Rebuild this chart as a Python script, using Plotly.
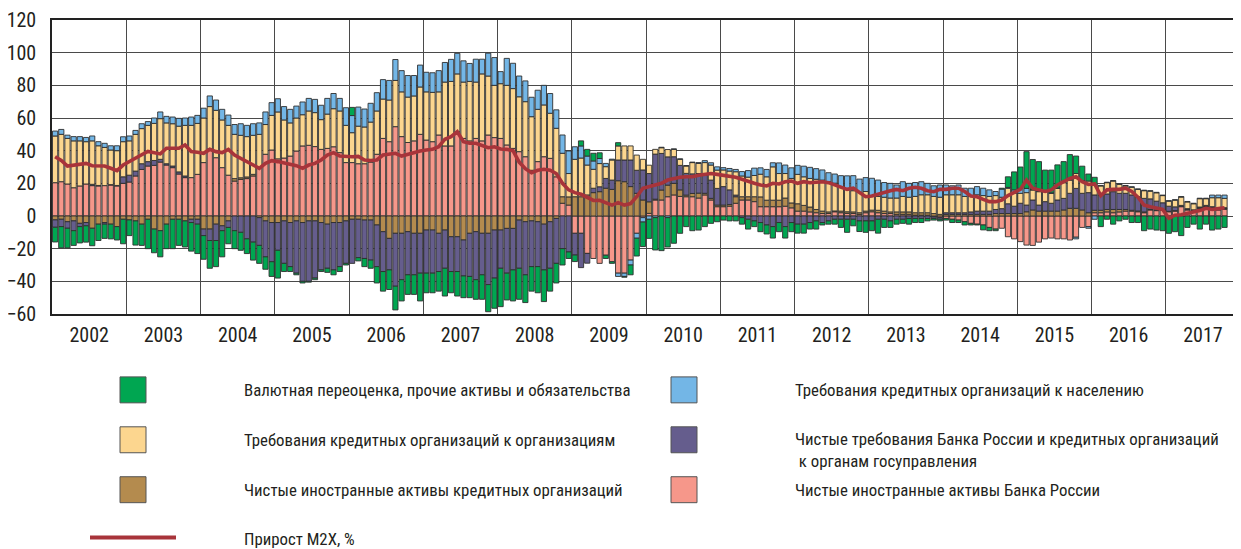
import plotly.graph_objects as go

# ---------------- data (monthly, Jan 2002 - Oct 2017), percentage points ----------------
YEARS = [str(y) for y in range(2002, 2018)]

SALMON = (  # Чистые иностранные активы Банка России
    [20.4, 21, 19.6, 17.3, 18.4, 19.6, 18.6, 18.4, 18.6, 19, 18.4, 20] +
    [20.8, 24.5, 28.5, 30.6, 31, 33, 31.2, 29.6, 25.7, 23.5, 23.5, 25.5] +
    [32.7, 41, 35.7, 29.6, 25, 21.4, 22.4, 22.9, 24.5, 29.6, 37.8, 40.4] +
    [35, 35.5, 36.7, 39.8, 42.9, 43.3, 42.5, 40.8, 41.4, 42.4, 38.8, 32.7] +
    [32.7, 32, 32, 33, 37.8, 47.5, 45.5, 54.7, 48.6, 45, 46, 50] +
    [46.5, 45.5, 49.6, 42.9, 42.9, 51.6, 47.5, 46, 47.5, 46, 49.6, 48] +
    [47.5, 43.5, 41.4, 39.4, 36.3, 28, 33.3, 36.3, 35.3, 24, 7.8, 6.7] +
    [-10.6, -10.6, -22.9, -26, -29, -24, -28, -35, -35, -27, -10.6, -1] +
    [1.6, 9.8, 9.8, 11.8, 12.9, 12, 11.8, 11.8, 11, 12.9, 9.8, 5.7] +
    [5.7, 6, 7.8, 9.8, 9.8, 8.8, 5.7, 5.7, 5.7, 5.7, 6, 5] +
    [3, 3, 2.5, 2, 1.5, 1.5, 2.6, 2, 1.6, 1.5, 1, 2] +
    [2.6, 2, 1.5, 1.5, 1, 1, 1, 0.5, 0.5, 0.5, -0.5, -1] +
    [-1.5, -2, -2.5, -3.5, -4.5, -5, -5.5, -7, -8, -7.5, -12.7, -14] +
    [-15.7, -17.8, -18, -16, -14, -13.5, -14, -14, -14.7, -13, -7, -6.5] +
    [2, 2, 2.5, 2, 2.5, 3, 3, 2.6, 2, 3.7, 3.3, 3.7] +
    [2.6, 3, 5.7, 3.7, 3, 4.7, 5.7, 4.7, 3.7, 4.1]
)

BROWN = (  # Чистые иностранные активы кредитных организаций
    [-2.4, -2, -3.5, -3, -4.5, -4, -7.5, -5, -4, -5, -6.5, -2] +
    [-2.4, -3, -5, -2, -8, -9, -5, -2, -2, -3, -2, -2] +
    [-8, -8, -5, -6, -3, 1.5, 1, 1, 1, -1, -3, -4] +
    [-4, -3, -4, -3, -4, -3, -3, -4, -5, -4, -4, -3] +
    [-2, -2, -2.5, -2.5, -5.5, -9.6, -13.7, -10.6, -10.6, -9.6, -10.6, -10.6] +
    [-8.6, -8.6, -10.6, -8.6, -12.7, -12.7, -14.7, -10.6, -9.6, -10.6, -10.6, -8.6] +
    [-8.6, -7.6, -7.6, -2.5, -3.5, -3, -3.5, -5, -3.5, -1.5, 4, 5] +
    [11.8, 11.8, 12.9, 14.3, 14.9, 17, 16.3, 21.6, 21, 18, 13.9, 9.8] +
    [7.1, 0.5, 6.1, 7.1, 7.1, 4, 1, 2, 3, 1, 1, 1] +
    [1, 1, 4, 2, 2, 3, 6, 4, 4, 4, 5, 3] +
    [4.5, 3.5, 3, 2, 1.5, 1, 0.5, 1, 1, 1, 1, 1] +
    [1, 1.5, 1.5, 1, 1.5, 1.5, 1.5, 1.5, 1.5, 1.5, 1.5, 1] +
    [1, 1, 1, 1, 1, 1, 1, 1, 1.5, 1.5, 1.5, 1.5] +
    [1.5, 2.6, 3.7, 3, 3, 3, 3, 3.7, 4.7, 4.7, 3.7, 2] +
    [1.5, 1.5, 1.5, 2, 1.5, 1, 0.5, 0.5, 0.5, 0.3, 0.3, 0.3] +
    [0.3, 0.3, 0.3, 0.3, 0.3, 0.3, 0.3, 0.5, 0.5, 0.5]
)

PURPLE = (  # Чистые требования к органам госуправления
    [-4.5, -4.5, -4, -6, -2, -2, 0.8, 0.3, -1, 0.2, 0.3, 4] +
    [4.2, 3, 3.5, 2.7, 3, 1.7, 0.8, 1, 1.3, 1, -2, -3] +
    [-4, -7, -10, -3, -4, -9, -10, -14, -16, -17, -22, -24] +
    [-17, -26, -27, -32, -36, -37, -35, -29, -27, -29, -27, -26] +
    [-27, -23.5, -23.5, -24.5, -25.5, -24.4, -19.3, -32.4, -28.4, -26.4, -25.4, -24.4] +
    [-26.4, -26.4, -23.4, -23.4, -21.3, -21.3, -22, -26.4, -29.4, -25.4, -31.4, -29.4] +
    [-23.4, -27.4, -25.4, -29.5, -32.5, -28, -27.5, -28, -28.5, -27.5, -20, -22] +
    [-13.3, -21, -6, 2.7, 3, 6, 5.7, 12.7, 13.3, 16.3, 14.1, 18.4] +
    [17.3, 27.6, 22.4, 17.3, 16.3, 15, 13.3, 12, 12, 11.2, 11.2, 10.2] +
    [11.3, 9, 1, -1, -2, -3, -4, -5.5, -6.5, -4, -6.5, -4] +
    [-5, -5, -4, -3, -4, -3, -2, -2, -2, -2, -3, -3] +
    [-3, -2, -2, -3, -2, -2, -1.5, -1.5, -1.5, -1.5, -1, -1] +
    [1, 1, 1, 1, 1.5, 2, 2, 2, 2.5, 3, 6, 4.5] +
    [6.3, 4.1, 6.1, 3.7, 5.8, 4.8, 6.8, 7.1, 9.2, 12.2, 10.2, 12.3] +
    [9.4, 9.4, 9.5, 10.9, 9.9, 9.9, 9.4, 8.7, 8.3, 6.5, 5.5, 4.1] +
    [3.1, 2.3, 0.5, 0.5, 0.5, 0.5, 0.5, 0.5, 0.5, 0.5]
)

YELLOW = (  # Требования кредитных организаций к организациям
    [28.6, 29, 27.9, 28.7, 27.6, 25.9, 26.6, 24.3, 23.4, 21.2, 21.3, 21.5] +
    [21, 22.5, 21.5, 22.2, 22.7, 24.9, 25, 25.9, 28, 31, 32, 31.2] +
    [27.3, 26, 29, 29.2, 30.5, 27.1, 26, 24.7, 23.9, 20.4, 18.2, 21.2] +
    [28.7, 23.3, 20.3, 20.2, 19.1, 21, 20.8, 18.2, 21, 23.3, 25.5, 22.8] +
    [18.3, 23, 22.5, 24.5, 26.5, 24.1, 25.5, 28.3, 27.4, 27.8, 27.5, 29] +
    [29.5, 30.2, 26.4, 39.1, 39.5, 35.4, 34.5, 36.4, 34.5, 41, 36.1, 32] +
    [33.5, 36.5, 36.6, 33.6, 33.7, 32.8, 32, 31.7, 27.6, 29.7, 26.6, 14.3] +
    [22.9, 23.7, 18.3, 11.6, 14.2, 7.2, 12.3, 8.6, 8.6, 8.6, 9.3, 6.5] +
    [5.1, 2.9, 3.5, 4.5, 4.5, 3.7, 4.5, 6.9, 6.2, 7.6, 9.2, 11.2] +
    [10.2, 11.5, 14.3, 12.7, 12, 13, 13.9, 14.3, 20.4, 16.3, 15, 15] +
    [18, 17.5, 17.5, 18.5, 19, 18.5, 17, 15, 14, 13, 12.5, 12] +
    [8.5, 8.5, 8.5, 8.5, 8.5, 9.5, 9, 10, 11, 11, 10.5, 10.5] +
    [11, 11, 11, 10, 9.5, 10, 9.5, 9, 8.5, 7, 9.5, 8] +
    [6.1, 7.6, 6.1, 8.2, 6.1, 6.1, 7.1, 9.6, 8.1, 9.1, 7.5, 7.1] +
    [6.1, 5.5, 6.9, 6.5, 5.5, 4.5, 4.7, 4.5, 4.7, 4.7, 5.1, 4.4] +
    [3.1, 4.1, 5.1, 4.1, 3.7, 5.1, 4.1, 5.5, 6.5, 5.7]
)

BLUE = (  # Требования кредитных организаций к населению
    [3, 3, 2, 2.6, 2.6, 2.6, 3, 2.5, 2.5, 2.6, 3, 3] +
    [3, 2.4, 3, 2.3, 3.3, 4.1, 4, 4.1, 4.8, 4.5, 5.1, 4.9] +
    [6, 6.5, 6.3, 6.5, 6.3, 6, 7.1, 6.9, 7.1, 7, 7.7, 7.8] +
    [8.1, 8.2, 8.3, 7.3, 7.8, 7.7, 8.1, 8.8, 9.6, 9.3, 7.7, 10.8] +
    [10.5, 11.7, 11, 11.5, 11.2, 11.9, 12, 12.8, 13, 13.2, 12.5, 13.4] +
    [12, 12, 13, 12, 13.5, 12.6, 13, 11, 14, 9, 14, 17] +
    [7.4, 16.5, 15.5, 12.7, 12.7, 11.9, 11.7, 12, 12.1, 11.3, 11.2, 13.8] +
    [7.7, 7.4, 5.5, 5.1, 3.1, 2, 0.5, -2, -2, -3, -3, -2.7] +
    [-2, -1, 0.3, -1, 0.3, 0.3, 0.3, 0.3, 0.5, 1.2, 1.4, 2] +
    [1.4, 1.6, 1.4, 2.7, 4, 4.5, 3.9, 4.5, 2.5, 6.5, 5.2, 6.5] +
    [5.5, 6.5, 6.8, 6.5, 6.2, 5.5, 5.6, 6.7, 8, 9.2, 8.1, 8.5] +
    [11, 10, 9, 9, 8, 9, 8.5, 8.5, 8, 7, 6.5, 7.5] +
    [6, 5.5, 6, 5, 5, 5, 4.5, 4, 2.5, 5, 0.5, 2] +
    [3, 2.6, 0.3, 0.3, 0.3, 0.3, 0.3, 0.3, 0.3, -1, 0.3, -1] +
    [-2, 0.3, 0.3, 0.3, 0.3, 0.3, 0.3, 0.3, 0.3, 0.3, 0.3, 0.3] +
    [0.3, 0.3, 0.3, 0.3, 0.3, 0.3, 0.3, 1.6, 1.6, 2]
)

GREEN = (  # Валютная переоценка, прочие активы и обязательства
    [-9, -13, -12, -9, -10, -10, -10.7, -10, -8.7, -9, -8.2, -15] +
    [-9.6, -14.8, -13, -18, -14.5, -16, -15, -18, -16, -16, -17.5, -18] +
    [-14.5, -17, -16, -16, -10, -11, -11, -9, -11, -11, -7.6, -9] +
    [-17, -5, -3, -1, -1, -0.5, -1, -1, -2.5, -3, -3, -1] +
    [5, -2, -5, -5, -10, -12, -12, -14.5, -13, -12, -12, -17] +
    [-12, -12, -12, -17, -13, -15, -13.3, -13, -12, -15, -16.6, -18.5] +
    [-23.5, -16.4, -19, -19, -17, -15, -16, -19.4, -14, -12, -10, -4] +
    [-4, 3.1, 4.1, 4.7, 3.5, -2, -1, 2, -0.5, -6, -10.9, -15] +
    [-11.7, -19.8, -21.2, -18, -16.7, -10.6, -6.5, -9, -8.6, -6.5, -4.5, -3.5] +
    [-2.5, -3, -3, -4, -6, -3.5, -5.6, -5.5, -7, -5.6, -7, -5.6] +
    [-5.5, -5.5, -4, -5, -1.5, -2, -3, -5, -8, -4, -6.5, -7] +
    [-6, -8.5, -5, -4, -3, -2.5, -3.5, -2.5, -2.5, -1.5, -1, -1] +
    [-1, -2, -1.5, -2, -1, -0.5, -3, -2, -1, 0.5, 6.5, 11] +
    [13.1, 22.5, 18.4, 18.1, 12.9, 13.9, 14.1, 12.6, 15.3, 10.7, 8.8, 4.3] +
    [4.7, -6.5, -2, -5, -3, -2, -4, -4, -9, -8, -8.6, -9] +
    [-10.6, -9.6, -12, -7, -5, -8, -5, -8.6, -8, -7]
)

M2X = (  # Прирост М2Х, %
    [36.3, 34, 30.6, 31.2, 31.8, 32.2, 30.8, 30.8, 30.6, 29.2, 27.8, 31.2] +
    [33.5, 35.5, 37.5, 39.5, 39, 38, 41.5, 41.5, 41.5, 43.5, 39.5, 39] +
    [38.4, 40.8, 39.4, 38.8, 40.8, 37.3, 35.3, 33.3, 31.2, 29.2, 32.2, 33.9] +
    [33.3, 32.5, 31.2, 30.8, 29.2, 31.2, 32.2, 34.3, 37.3, 38.8, 36.7, 36.3] +
    [36.3, 36.5, 34.3, 34, 34.3, 37.3, 38, 38.4, 36.7, 37.8, 38.8, 39.8] +
    [40.4, 40.8, 42.4, 47, 48.6, 51.6, 45.5, 44.5, 44.5, 42.9, 41.8, 42.4] +
    [41, 40.8, 40, 33, 29, 26.5, 28, 28.6, 28, 26, 20, 16] +
    [14.3, 13.3, 11.6, 9.5, 9.6, 8.1, 6.7, 8.2, 6.7, 7.6, 11.8, 17] +
    [18, 19, 20, 22, 23, 23.7, 24, 24, 25, 25.5, 26, 25.5] +
    [25, 24.5, 23.7, 22.5, 21, 20, 19, 18.4, 20, 19.6, 21, 21.4] +
    [20, 21, 20.4, 20.6, 21, 20.4, 19, 18, 16.3, 17, 14.3, 11.8] +
    [12.2, 13.3, 14.9, 15.5, 16.3, 15.5, 17, 17.6, 17, 15.5, 14.9, 16.3] +
    [16.3, 17, 17, 15, 12.2, 11.8, 10.2, 8.8, 8.8, 9.8, 12.5, 14.5] +
    [16.3, 22, 17, 16, 15, 16, 19, 21, 23, 24, 21, 19.3] +
    [19.6, 12.5, 16, 16.3, 16.3, 17, 15, 11.5, 6.7, 5.7, 5.1, 4] +
    [-1.4, 0.5, 0.8, 1.6, 2.6, 3.3, 4.7, 4, 4.5, 5]
)

NAME_GREEN = "Валютная переоценка, прочие активы и обязательства"
NAME_BLUE = "Требования кредитных организаций к населению"
NAME_YELLOW = "Требования кредитных организаций к организациям"
NAME_PURPLE = "Чистые требования Банка России и кредитных организаций<br> к органам госуправления"
NAME_BROWN = "Чистые иностранные активы кредитных организаций"
NAME_SALMON = "Чистые иностранные активы Банка России"
NAME_LINE = "Прирост М2Х, %"

for arr in (SALMON, BROWN, PURPLE, YELLOW, BLUE, GREEN, M2X):
    assert len(arr) == 190, len(arr)

# ---------------- styling ----------------
C_SALMON = "#f6978a"
C_BROWN = "#b48b4e"
C_PURPLE = "#655d8d"
C_YELLOW = "#fcd68f"
C_BLUE = "#73b6e6"
C_GREEN = "#00a651"
C_LINE = "#a8343a"
EDGE = "#2f2f2f"
GRID = "#4a4a4a"
FONT = "Roboto Condensed, Liberation Sans Narrow, Arial Narrow, DejaVu Sans Condensed, sans-serif"
TXT = "#231f20"

x = [i + 0.5 for i in range(len(SALMON))]

fig = go.Figure()
for vals, name, col in [(SALMON, NAME_SALMON, C_SALMON), (BROWN, NAME_BROWN, C_BROWN),
                        (PURPLE, NAME_PURPLE, C_PURPLE), (YELLOW, NAME_YELLOW, C_YELLOW),
                        (BLUE, NAME_BLUE, C_BLUE), (GREEN, NAME_GREEN, C_GREEN)]:
    fig.add_trace(go.Bar(x=x, y=vals, name=name, showlegend=False,
                         marker=dict(color=col, line=dict(color=EDGE, width=0.9))))
fig.add_trace(go.Scatter(x=x, y=M2X, mode="lines", name=NAME_LINE, showlegend=False,
                         line=dict(color=C_LINE, width=3.6)))

# the page adds an 8px body margin; lay the figure out in page pixels minus that offset
OFF = 8
W, H = 1241 - OFF, 549 - OFF
PL, PR, PT, PB = 52 - OFF, 1240 - OFF, 19.5 - OFF, 314 - OFF

fig.update_layout(
    width=W, height=H, barmode="relative", bargap=0.16,
    margin=dict(l=PL, r=W - PR, t=PT, b=H - PB, pad=0, autoexpand=False),
    paper_bgcolor="white", plot_bgcolor="white", showlegend=False,
    font=dict(family=FONT, color=TXT),
)
fig.update_xaxes(
    automargin=False,
    range=[0, 192], tickmode="array", tickvals=[12 * k + 6 for k in range(len(YEARS))],
    ticktext=YEARS, showgrid=False, ticks="outside", ticklen=2, tickcolor="rgba(0,0,0,0)",
    tickfont=dict(size=20, family=FONT, color=TXT),
    minor=dict(tickmode="linear", tick0=0, dtick=12, showgrid=True, gridcolor=GRID,
               gridwidth=1.3, ticks=""),
    showline=True, mirror=True, linecolor="#222", linewidth=1.5, zeroline=False,
)
fig.update_yaxes(
    automargin=False,
    range=[-60, 120], tickmode="array", tickvals=list(range(-60, 121, 20)),
    showgrid=True, gridcolor=GRID, gridwidth=1.3, ticks="outside", ticklen=10,
    tickcolor="rgba(0,0,0,0)", tickfont=dict(size=20, family=FONT, color=TXT),
    showline=True, mirror=True, linecolor="#222", linewidth=1.5, zeroline=False,
)

# ---------------- custom legend (positions in page pixels) ----------------
def px(v):
    return (v - OFF - PL) / (PR - PL)

def py(v):
    return (PB - (v - OFF)) / (PB - PT)

LEG_FS = 16.8
legend_items = [
    (120, 390, C_GREEN, NAME_GREEN, 242),
    (120, 440, C_YELLOW, NAME_YELLOW, 242),
    (120, 490, C_BROWN, NAME_BROWN, 242),
    (671, 390, C_BLUE, NAME_BLUE, 793),
    (671, 440, C_PURPLE, NAME_PURPLE, 793),
    (671, 490, C_SALMON, NAME_SALMON, 793),
]
for bx, cy, col, name, tx in legend_items:
    fig.add_shape(type="rect", xref="paper", yref="paper",
                  x0=px(bx), x1=px(bx + 26), y0=py(cy + 13), y1=py(cy - 13),
                  fillcolor=col, line=dict(color="#555", width=1))
    if "<br>" in name:
        fig.add_annotation(xref="paper", yref="paper", x=px(tx), y=py(cy - 13),
                           xanchor="left", yanchor="top", text=name, showarrow=False,
                           align="left", font=dict(size=LEG_FS, family=FONT, color=TXT))
    else:
        fig.add_annotation(xref="paper", yref="paper", x=px(tx), y=py(cy),
                           xanchor="left", yanchor="middle", text=name, showarrow=False,
                           align="left", font=dict(size=LEG_FS, family=FONT, color=TXT))

fig.add_shape(type="line", xref="paper", yref="paper", x0=px(90), x1=px(176),
              y0=py(538), y1=py(538), line=dict(color=C_LINE, width=4))
fig.add_annotation(xref="paper", yref="paper", x=px(242), y=py(539), xanchor="left",
                   yanchor="middle", text=NAME_LINE, showarrow=False,
                   font=dict(size=LEG_FS, family=FONT, color=TXT))

fig.write_html("out.html")
